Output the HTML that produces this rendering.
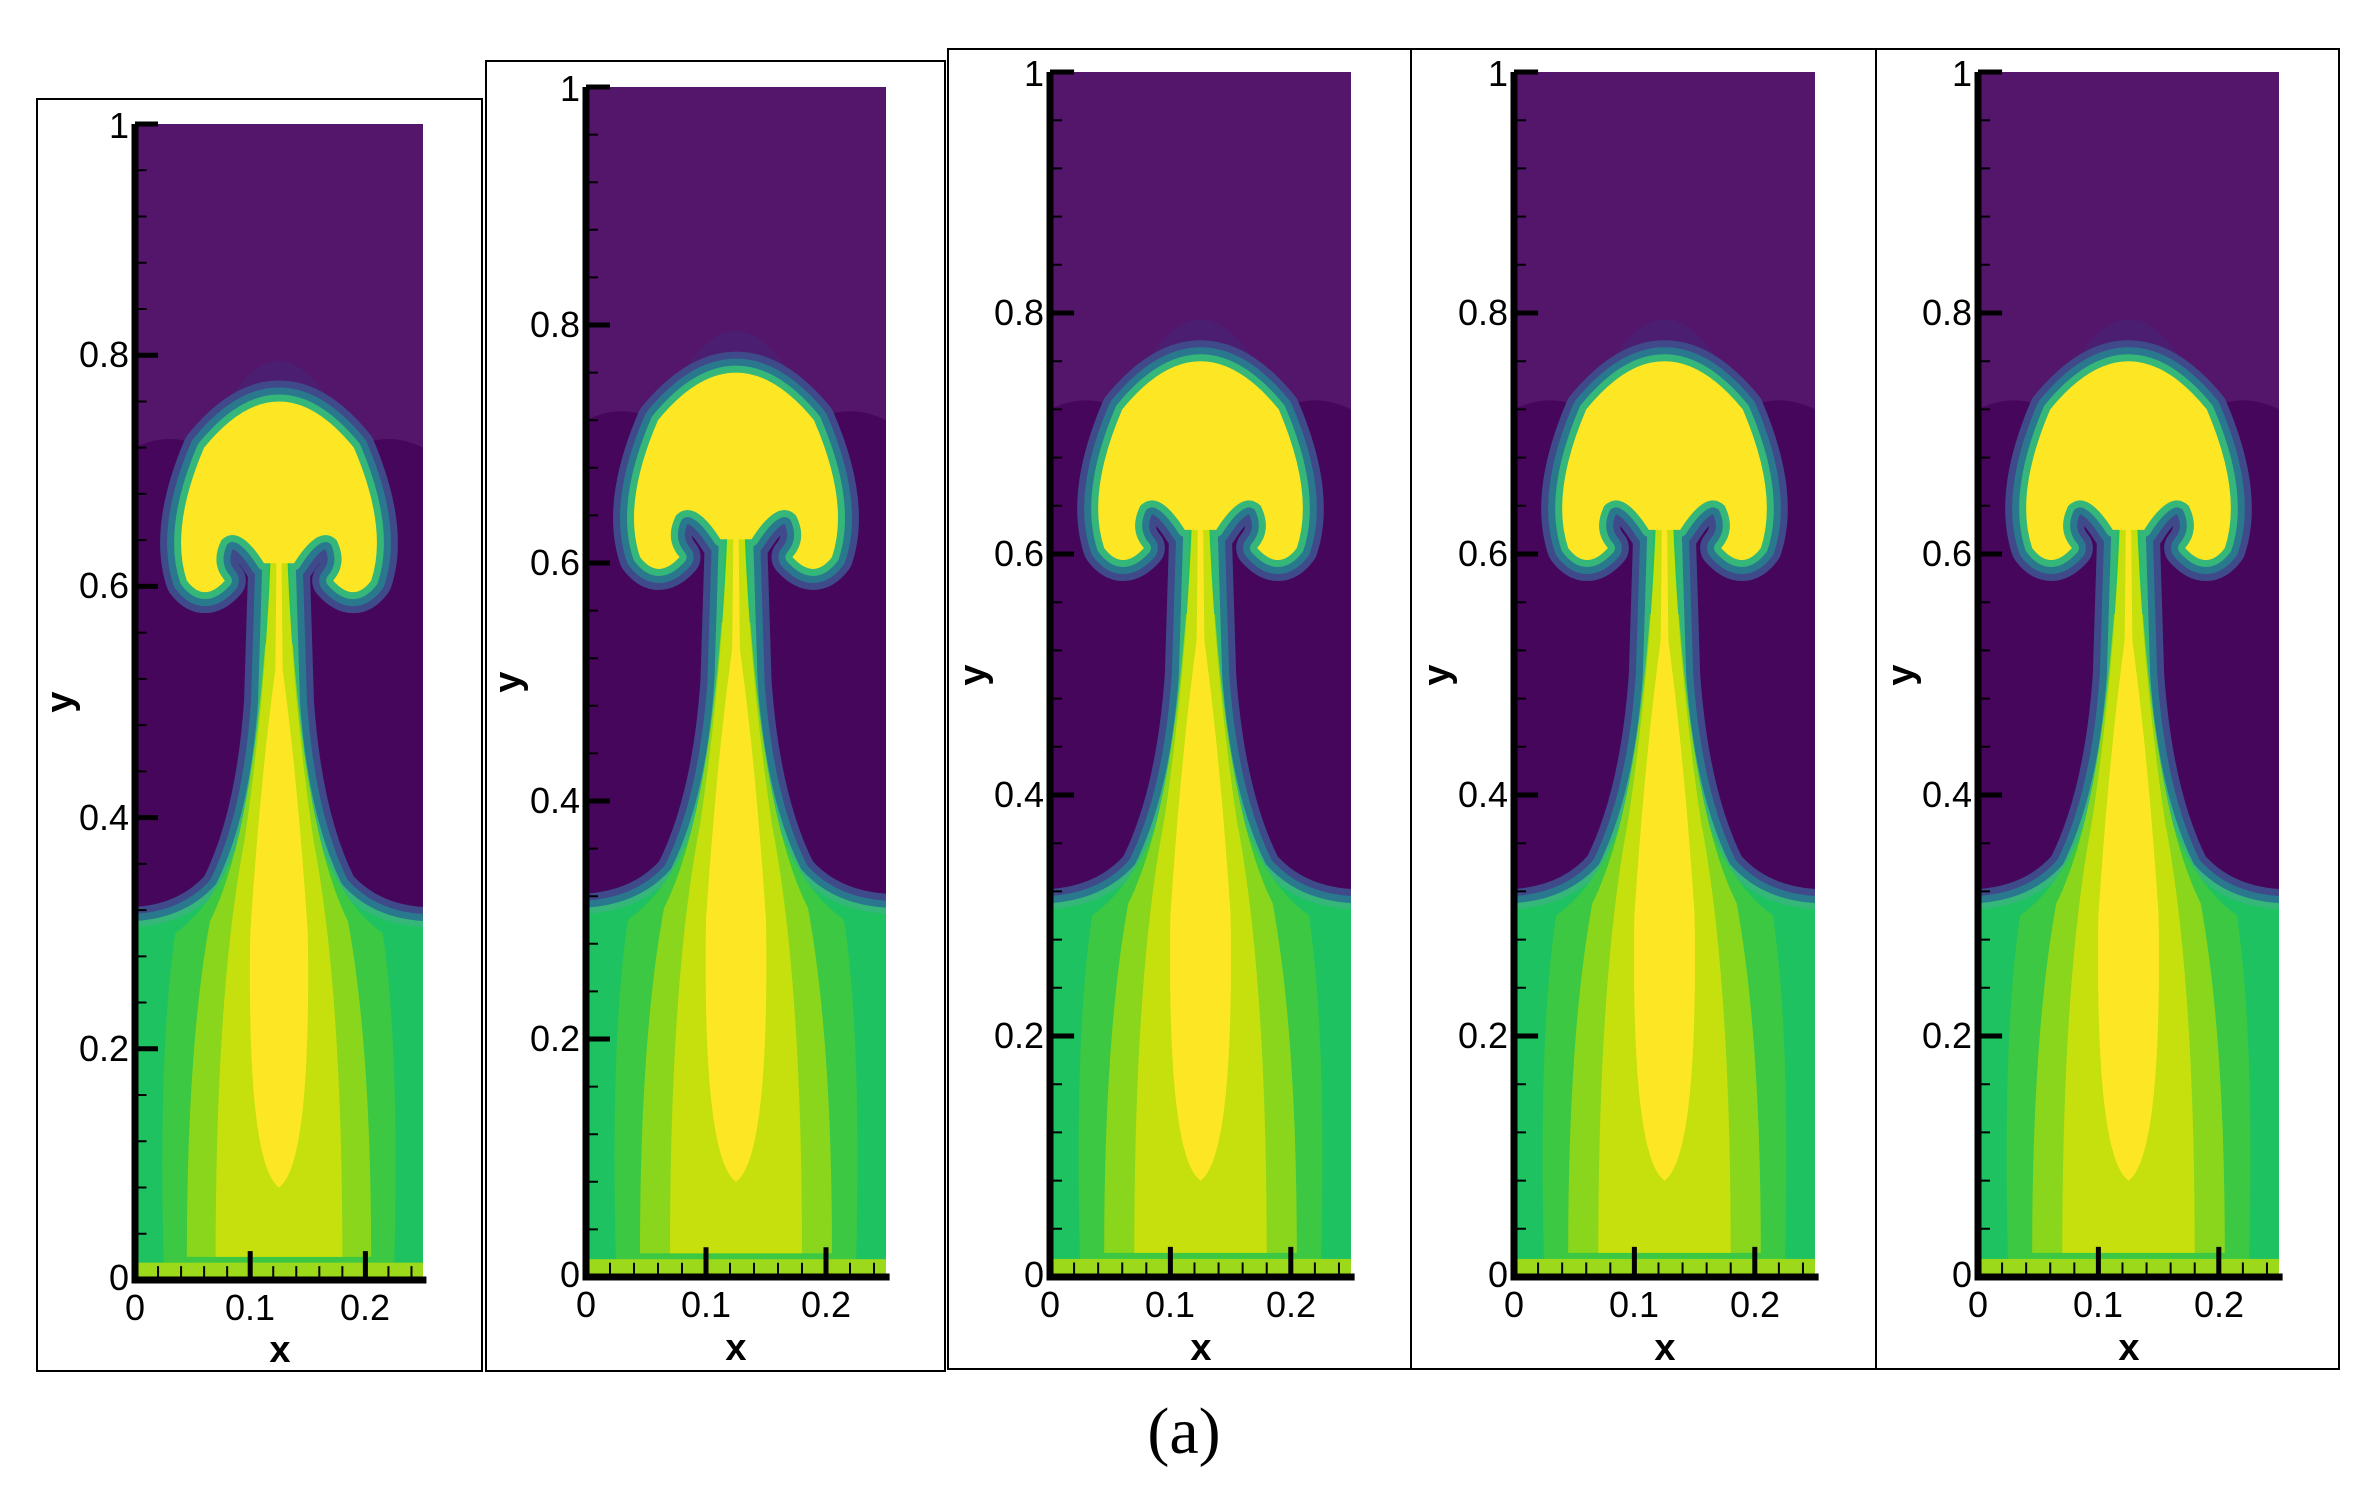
<!DOCTYPE html>
<html><head><meta charset="utf-8"><style>
html,body{margin:0;padding:0;background:#fff;}
svg{display:block;}
text{font-family:"Liberation Sans",sans-serif;fill:#000;}
</style></head><body>
<svg width="2362" height="1501" viewBox="0 0 2362 1501" xmlns="http://www.w3.org/2000/svg">
<defs>
<clipPath id="cp" clipPathUnits="userSpaceOnUse"><rect x="0" y="0" width="0.25" height="1"/></clipPath>
<g id="field" clip-path="url(#cp)">
  <rect x="0" y="0" width="0.25" height="1" fill="#53166b"/>
  <path d="M0,0.3 L0,0.72 Q0.03,0.735 0.06,0.72 L0.19,0.72 Q0.22,0.735 0.25,0.72 L0.25,0.3 Z" fill="#46065b"/>
  <path d="M0.06,0.72 Q0.125,0.87 0.19,0.72 Z" fill="#482475" opacity="0.6"/>
  <g fill="none" stroke-linejoin="round">
  <path d="M-0.01,0 L-0.01,0.305 Q0.045,0.305 0.075,0.34 Q0.105,0.4 0.112,0.5 L0.116,0.63 L0.134,0.63 L0.138,0.5 Q0.145,0.4 0.175,0.34 Q0.205,0.305 0.26,0.305 L0.26,0 Z" stroke="#3f4a8a" stroke-width="40" vector-effect="non-scaling-stroke"/>
  <path d="M0.112,0.62 Q0.09,0.655 0.075,0.64 Q0.065,0.62 0.078,0.605 Q0.06,0.585 0.045,0.605 Q0.03,0.65 0.06,0.72 Q0.125,0.8 0.19,0.72 Q0.22,0.65 0.205,0.605 Q0.19,0.585 0.172,0.605 Q0.185,0.62 0.175,0.64 Q0.16,0.655 0.138,0.62 Z" stroke="#3f4a8a" stroke-width="42" vector-effect="non-scaling-stroke"/>
  <path d="M-0.01,0 L-0.01,0.305 Q0.045,0.305 0.075,0.34 Q0.105,0.4 0.112,0.5 L0.116,0.63 L0.134,0.63 L0.138,0.5 Q0.145,0.4 0.175,0.34 Q0.205,0.305 0.26,0.305 L0.26,0 Z" stroke="#2a788e" stroke-width="26" vector-effect="non-scaling-stroke"/>
  <path d="M0.112,0.62 Q0.09,0.655 0.075,0.64 Q0.065,0.62 0.078,0.605 Q0.06,0.585 0.045,0.605 Q0.03,0.65 0.06,0.72 Q0.125,0.8 0.19,0.72 Q0.22,0.65 0.205,0.605 Q0.19,0.585 0.172,0.605 Q0.185,0.62 0.175,0.64 Q0.16,0.655 0.138,0.62 Z" stroke="#2a788e" stroke-width="28" vector-effect="non-scaling-stroke"/>
  <path d="M-0.01,0 L-0.01,0.305 Q0.045,0.305 0.075,0.34 Q0.105,0.4 0.112,0.5 L0.116,0.63 L0.134,0.63 L0.138,0.5 Q0.145,0.4 0.175,0.34 Q0.205,0.305 0.26,0.305 L0.26,0 Z" stroke="#35b779" stroke-width="12" vector-effect="non-scaling-stroke"/>
  <path d="M0.112,0.62 Q0.09,0.655 0.075,0.64 Q0.065,0.62 0.078,0.605 Q0.06,0.585 0.045,0.605 Q0.03,0.65 0.06,0.72 Q0.125,0.8 0.19,0.72 Q0.22,0.65 0.205,0.605 Q0.19,0.585 0.172,0.605 Q0.185,0.62 0.175,0.64 Q0.16,0.655 0.138,0.62 Z" stroke="#35b779" stroke-width="14" vector-effect="non-scaling-stroke"/>
  </g>
  <path d="M-0.01,0 L-0.01,0.305 Q0.045,0.305 0.075,0.34 Q0.105,0.4 0.112,0.5 L0.116,0.63 L0.134,0.63 L0.138,0.5 Q0.145,0.4 0.175,0.34 Q0.205,0.305 0.26,0.305 L0.26,0 Z" fill="#1fc261"/>
  <path d="M0.025,0.01 Q0.02,0.2 0.035,0.3 Q0.09,0.34 0.107,0.45 L0.143,0.45 Q0.16,0.34 0.215,0.3 Q0.23,0.2 0.225,0.01 Z" fill="#3cc842"/>
  <path d="M0.045,0.02 Q0.045,0.2 0.065,0.31 Q0.1,0.38 0.113,0.55 L0.137,0.55 Q0.15,0.38 0.185,0.31 Q0.205,0.2 0.205,0.02 Z" fill="#8ad61c"/>
  <path d="M0.07,0.02 Q0.07,0.25 0.095,0.38 Q0.113,0.5 0.118,0.63 L0.132,0.63 Q0.137,0.5 0.155,0.38 Q0.18,0.25 0.18,0.02 Z" fill="#c5e00d"/>
  <rect x="0" y="0" width="0.25" height="0.015" fill="#9bd91a"/>
  <path d="M0.112,0.62 Q0.09,0.655 0.075,0.64 Q0.065,0.62 0.078,0.605 Q0.06,0.585 0.045,0.605 Q0.03,0.65 0.06,0.72 Q0.125,0.8 0.19,0.72 Q0.22,0.65 0.205,0.605 Q0.19,0.585 0.172,0.605 Q0.185,0.62 0.175,0.64 Q0.16,0.655 0.138,0.62 Z" fill="#fde725"/>
  <path d="M0.075,0.68 Q0.125,0.71 0.175,0.68 Q0.16,0.655 0.138,0.625 L0.112,0.625 Q0.09,0.655 0.075,0.68 Z" fill="#fde725"/>
  <path d="M0.121,0.45 L0.123,0.64 L0.127,0.64 L0.129,0.45 Z" fill="#fde725"/>
  <path d="M0.125,0.08 Q0.097,0.1 0.1,0.3 Q0.11,0.45 0.125,0.55 Q0.14,0.45 0.15,0.3 Q0.153,0.1 0.125,0.08 Z" fill="#fde725"/>
</g>
<g id="ax" fill="none" stroke="#000">
  <path d="M0,0.04H0.01M0,0.08H0.01M0,0.12H0.01M0,0.16H0.01M0,0.24H0.01M0,0.28H0.01M0,0.32H0.01M0,0.36H0.01M0,0.44H0.01M0,0.48H0.01M0,0.52H0.01M0,0.56H0.01M0,0.64H0.01M0,0.68H0.01M0,0.72H0.01M0,0.76H0.01M0,0.84H0.01M0,0.88H0.01M0,0.92H0.01M0,0.96H0.01
  M0.02,0V0.012M0.04,0V0.012M0.06,0V0.012M0.08,0V0.012M0.12,0V0.012M0.14,0V0.012M0.16,0V0.012M0.18,0V0.012M0.22,0V0.012M0.24,0V0.012" stroke-width="2" vector-effect="non-scaling-stroke"/>
  <path d="M0,0.2H0.02M0,0.4H0.02M0,0.6H0.02M0,0.8H0.02M0,1H0.02M0.1,0V0.025M0.2,0V0.025" stroke-width="5" vector-effect="non-scaling-stroke"/>
  <path d="M0,1V0H0.253" stroke-width="7" vector-effect="non-scaling-stroke"/>
</g>
</defs>

<g fill="none" stroke="#000" stroke-width="2">
<rect x="37" y="99" width="445" height="1272"/>
<rect x="486" y="61" width="459" height="1310"/>
<rect x="948" y="49" width="463" height="1320"/>
<rect x="1411" y="49" width="465" height="1320"/>
<rect x="1876" y="49" width="463" height="1320"/>
</g>

<use href="#field" transform="translate(135,1280) scale(1152,-1156)"/>
<use href="#ax" transform="translate(135,1280) scale(1152,-1156)"/>
<use href="#field" transform="translate(586,1277) scale(1200,-1190)"/>
<use href="#ax" transform="translate(586,1277) scale(1200,-1190)"/>
<use href="#field" transform="translate(1050,1277) scale(1204,-1205)"/>
<use href="#ax" transform="translate(1050,1277) scale(1204,-1205)"/>
<use href="#field" transform="translate(1514,1277) scale(1204,-1205)"/>
<use href="#ax" transform="translate(1514,1277) scale(1204,-1205)"/>
<use href="#field" transform="translate(1978,1277) scale(1204,-1205)"/>
<use href="#ax" transform="translate(1978,1277) scale(1204,-1205)"/>

<g font-size="36" text-anchor="end">
<text x="129" y="1290">0</text><text x="129" y="1061">0.2</text><text x="129" y="830">0.4</text><text x="129" y="598">0.6</text><text x="129" y="367">0.8</text><text x="129" y="138">1</text>
<text x="580" y="1287">0</text><text x="580" y="1051">0.2</text><text x="580" y="813">0.4</text><text x="580" y="575">0.6</text><text x="580" y="337">0.8</text><text x="580" y="101">1</text>
<text x="1044" y="1287">0</text><text x="1044" y="1048">0.2</text><text x="1044" y="807">0.4</text><text x="1044" y="566">0.6</text><text x="1044" y="325">0.8</text><text x="1044" y="86">1</text>
<text x="1508" y="1287">0</text><text x="1508" y="1048">0.2</text><text x="1508" y="807">0.4</text><text x="1508" y="566">0.6</text><text x="1508" y="325">0.8</text><text x="1508" y="86">1</text>
<text x="1972" y="1287">0</text><text x="1972" y="1048">0.2</text><text x="1972" y="807">0.4</text><text x="1972" y="566">0.6</text><text x="1972" y="325">0.8</text><text x="1972" y="86">1</text>
</g>
<g font-size="36" text-anchor="middle">
<text x="135" y="1320">0</text><text x="250" y="1320">0.1</text><text x="365" y="1320">0.2</text>
<text x="586" y="1317">0</text><text x="706" y="1317">0.1</text><text x="826" y="1317">0.2</text>
<text x="1050" y="1317">0</text><text x="1170" y="1317">0.1</text><text x="1291" y="1317">0.2</text>
<text x="1514" y="1317">0</text><text x="1634" y="1317">0.1</text><text x="1755" y="1317">0.2</text>
<text x="1978" y="1317">0</text><text x="2098" y="1317">0.1</text><text x="2219" y="1317">0.2</text>
</g>
<g font-size="38" font-weight="bold" text-anchor="middle">
<text x="280" y="1362">x</text><text x="736" y="1360">x</text><text x="1201" y="1360">x</text><text x="1665" y="1360">x</text><text x="2129" y="1360">x</text>
<text transform="translate(72,702) rotate(-90)">y</text>
<text transform="translate(520,682) rotate(-90)">y</text>
<text transform="translate(985,675) rotate(-90)">y</text>
<text transform="translate(1449,675) rotate(-90)">y</text>
<text transform="translate(1913,675) rotate(-90)">y</text>
</g>
<text x="1184" y="1453" font-size="66" text-anchor="middle" style="font-family:'Liberation Serif',serif">(a)</text>
</svg>
</body></html>
